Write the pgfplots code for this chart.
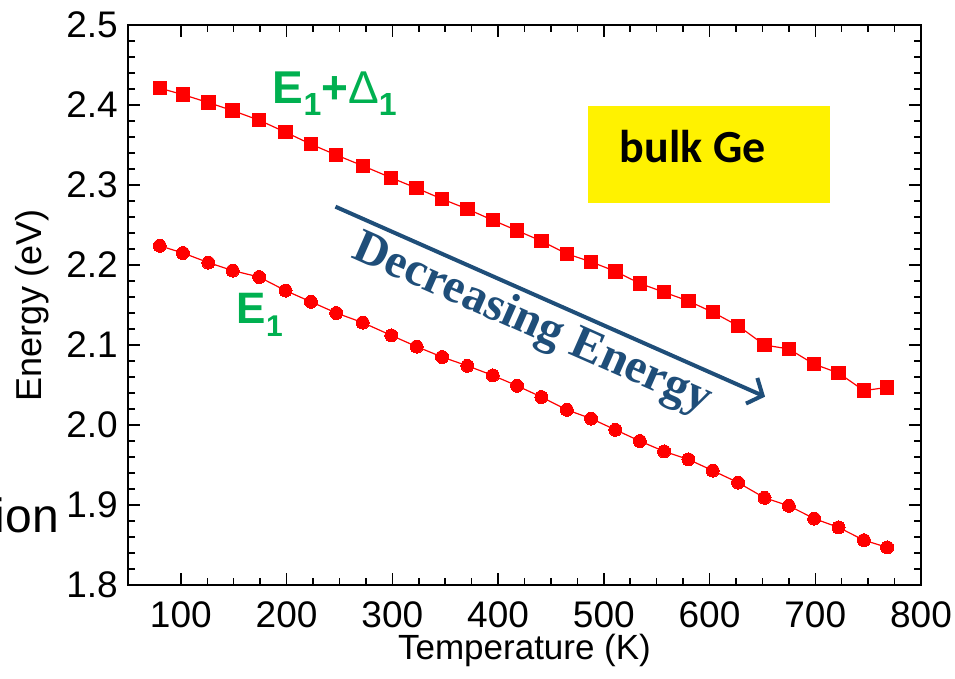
\documentclass[border=0pt]{standalone}
\usepackage{fontspec}
\setmainfont{Liberation Sans}
\newfontfamily\calibrifont{Carlito}
\newfontfamily\timesfont{Liberation Serif}
\usepackage{pgfplots}
\usepackage{pgfplotstable}
\pgfplotsset{compat=1.18}
\usetikzlibrary{arrows.meta}
\definecolor{dblue}{HTML}{1F4E79}
\definecolor{egreen}{HTML}{00B050}

\pgfplotstableread{
T E
80 2.224
102 2.215
126 2.203
149 2.193
174 2.185
199 2.168
223 2.154
247 2.140
272 2.128
299 2.112
323 2.098
347 2.085
371 2.074
395 2.062
418 2.049
441 2.035
465 2.019
488 2.008
511 1.994
534 1.980
557 1.967
580 1.957
603 1.943
627 1.928
652 1.909
675 1.899
699 1.883
722 1.872
746 1.856
768 1.847
}\Eone

\pgfplotstableread{
T E
80 2.421
102 2.413
126 2.403
149 2.393
174 2.381
199 2.366
223 2.351
247 2.3375
272 2.324
299 2.309
323 2.296
347 2.2825
371 2.270
395 2.256
418 2.243
441 2.230
465 2.214
488 2.204
511 2.192
534 2.177
557 2.166
580 2.155
603 2.141
627 2.124
652 2.100
675 2.095
699 2.076
722 2.065
746 2.043
768 2.047
}\EoneDelta

\begin{document}
\begin{tikzpicture}
\useasboundingbox (-128pt,-93pt) rectangle (827pt,585pt);
\begin{axis}[
  at={(0pt,0pt)}, anchor=south west,
  scale only axis, width=793pt, height=560pt,
  xmin=50, xmax=800, ymin=1.8, ymax=2.5,
  xtick={100,200,300,400,500,600,700,800},
  ytick={1.8,1.9,2.0,2.1,2.2,2.3,2.4,2.5},
  minor x tick num=3, minor y tick num=4,
  tick align=inside,
  major tick length=12pt, minor tick length=7pt,
  axis line style={line width=2pt},
  every tick/.style={black, line width=1.5pt},
  /pgf/number format/assume math mode=true,
  xticklabel style={font=\fontsize{37}{40}\selectfont, inner sep=0pt, anchor=north, yshift=-16pt},
  yticklabel style={font=\fontsize{37}{40}\selectfont, inner sep=0pt, anchor=east, xshift=-10pt,
    /pgf/number format/.cd, fixed, fixed zerofill, precision=1},
  xlabel={Temperature (K)},
  ylabel={Energy (eV)},
  xlabel style={font=\fontsize{35}{36}\selectfont, at={(axis description cs:0.5,-0.117)}, anchor=center, inner sep=0pt},
  ylabel style={font=\fontsize{36}{36}\selectfont, at={(axis description cs:-0.121,0.5)}, anchor=center, rotate=0, inner sep=0pt},
  clip=false,
]
\fill[yellow] (axis cs:484.9,2.2775) rectangle (axis cs:714.2,2.39875);
\node[anchor=base west, inner sep=0pt, font=\calibrifont\bfseries\fontsize{46}{46}\selectfont]
  at (axis cs:515.1,2.32875) {bulk Ge};

\addplot[red, line width=1.2pt, mark=*, mark size=6.5pt, mark options={solid, fill=red, draw=red, line width=0pt}]
  table[x=T, y=E] {\Eone};
\addplot[red, line width=1.2pt, mark=square*, mark size=6.7pt, mark options={solid, fill=red, draw=red, line width=0pt}]
  table[x=T, y=E] {\EoneDelta};

\node[anchor=base west, inner sep=0pt, text=egreen, font=\bfseries\fontsize{46}{46}\selectfont]
  at (axis cs:186.8,2.4025) {E\raisebox{-12pt}{\fontsize{32}{32}\selectfont 1}+{\mdseries\fontsize{46}{46}\selectfont Δ}\raisebox{-12pt}{\fontsize{32}{32}\selectfont 1}};
\node[anchor=base west, inner sep=0pt, text=egreen, font=\bfseries\fontsize{44}{44}\selectfont]
  at (axis cs:152.8,2.1275) {E\raisebox{-13pt}{\fontsize{30}{30}\selectfont 1}};

\draw[dblue, line width=4pt, -{Straight Barb[length=12pt,width=28pt]}]
  (axis cs:246.2,2.2729) -- (axis cs:652.5,2.0354);
\node[rotate=-23.8, text=dblue, inner sep=0pt, font=\timesfont\bfseries\fontsize{48}{48}\selectfont]
  at (axis cs:432,2.125) {Decreasing Energy};
\end{axis}
\node[anchor=base east, inner sep=0pt, font=\fontsize{48}{48}\selectfont] at (-69pt,53pt) {ion};
\end{tikzpicture}
\end{document}
